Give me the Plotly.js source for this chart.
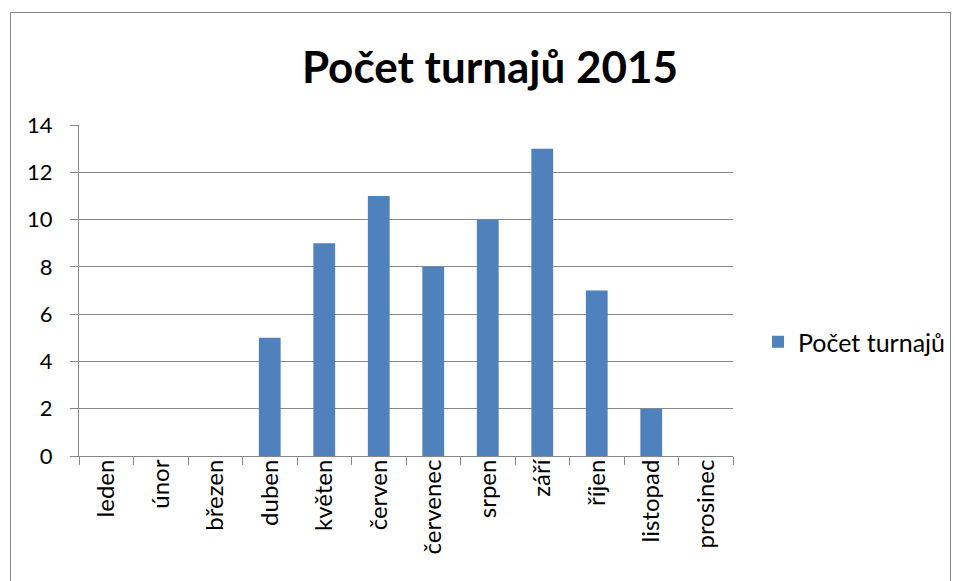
<!DOCTYPE html>
<html>
<head>
<meta charset="utf-8">
<script src="https://cdn.plot.ly/plotly-3.0.1.min.js"></script>
<style>
html,body{margin:0;padding:0;width:955px;height:581px;overflow:hidden;background:#fff;}
#chart{position:absolute;left:0;top:0;width:955px;height:581px;}
#frame{position:absolute;left:10px;top:12px;width:939px;height:620px;border:1px solid #888;pointer-events:none;}
</style>
</head>
<body>
<div id="chart"></div>
<div id="frame"></div>
<script>
const months = ["leden","únor","březen","duben","květen","červen","červenec","srpen","září","říjen","listopad","prosinec"];
const counts = [0,0,0,5,9,11,8,10,13,7,2,0];
const seriesName = "Počet turnajů";
const chartTitle = "Počet turnajů 2015";
const yTicks = [0,2,4,6,8,10,12,14];

const FONT = "Lato, 'Open Sans', sans-serif";
const trace = {
  type: "bar",
  x: months,
  y: counts,
  name: seriesName,
  marker: {color: "#4F81BD"},
  showlegend: true
};
const layout = {
  width: 955, height: 581,
  paper_bgcolor: "#fff", plot_bgcolor: "#fff",
  margin: {l: 79, r: 222, t: 125, b: 125, autoexpand: false},
  bargap: 0.6,
  font: {family: FONT, color: "#000", size: 22},
  title: {text: "<b>" + chartTitle + "</b>", font: {family: FONT, size: 44, color: "#000"},
          x: 490/955, xanchor: "center", xref: "container", y: 1 - 68/581, yanchor: "middle", yref: "container"},
  xaxis: {type: "category", tickangle: -90, tickson: "boundaries", ticks: "outside", ticklen: 8,
          tickcolor: "#888", showline: true, linecolor: "#888", linewidth: 1, showgrid: false,
          tickfont: {family: FONT, size: 24, color: "#000"}, ticklabelstandoff: -7, fixedrange: true},
  yaxis: {range: [0, 14], tickvals: yTicks, ticktext: yTicks.map(String), ticks: "outside", ticklen: 8,
          tickcolor: "#888", showline: true, linecolor: "#888", linewidth: 1,
          showgrid: true, gridcolor: "#888", gridwidth: 1, zeroline: false,
          tickfont: {family: FONT, size: 22, color: "#000"}, ticklabelstandoff: 13, fixedrange: true},
  showlegend: true,
  legend: {x: (758-79)/654, xanchor: "left", y: (456-342)/331, yanchor: "middle", font: {family: FONT, size: 25, color: "#000"},
           bgcolor: "rgba(0,0,0,0)", itemwidth: 30}
};
Plotly.newPlot("chart", [trace], layout, {displayModeBar: false, staticPlot: true}).then(function(gd){
  gd.querySelectorAll('.xtick text, .ytick text').forEach(function(t){ t.getBoundingClientRect(); });
});
</script>
</body>
</html>
